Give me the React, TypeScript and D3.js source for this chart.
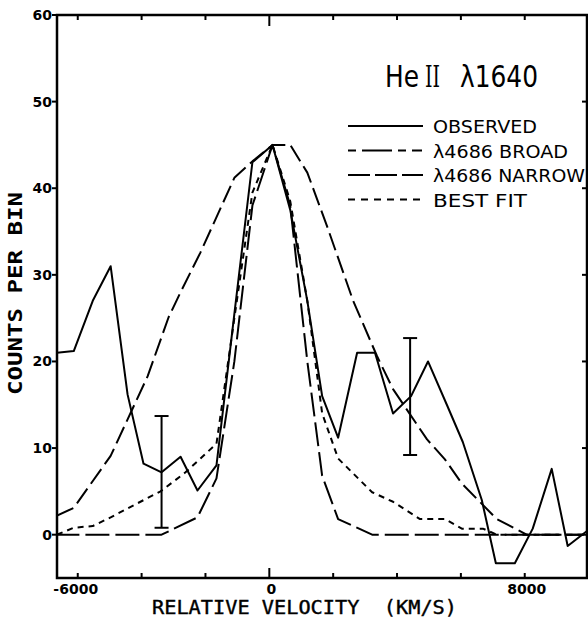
import { scaleLinear, line } from 'd3';

const WIDTH = 588;
const HEIGHT = 622;
const PLOT = { left: 57, right: 587, top: 15, bottom: 578 };

// observed spectrum (velocity km/s, counts per bin)
const obsVel = [-6700, -6125, -5530, -4970, -4440, -3940, -3375, -2780, -2250, -1655, -1095, -530, 100, 655, 1190, 1655, 2155, 2750, 3310, 3875, 4440, 4970, 5560, 6060, 6655, 7095, 7690, 8250, 8845, 9345, 9940];
const obsCounts = [21, 21.2, 27, 31, 16.2, 8.2, 7.2, 9, 5.1, 8, 25.5, 43, 45, 37.5, 27, 16, 11.2, 21, 21, 14, 16, 20, 15, 10.7, 4, -3.3, -3.3, 0.7, 7.6, -1.3, 0.4];

const broadVel = [-6650, -6125, -4970, -3810, -3155, -2780, -2155, -1095, -530, 100, 655, 1190, 1810, 2625, 3375, 3875, 4940, 5500, 6030, 7125, 8060, 9950];
const broadCounts = [2.2, 3.1, 9.1, 18.3, 25.1, 28, 32.6, 41.2, 43.1, 45, 45, 41.8, 35.6, 27, 20.6, 16.8, 11, 8.7, 5.9, 1.8, 0, 0];

const narrowVel = [-6700, -3375, -2250, -1655, -1095, -530, 100, 655, 1190, 1655, 2155, 3220, 9950];
const narrowCounts = [0, 0, 2, 6.5, 20, 38, 45, 38, 20, 6.8, 1.8, 0, 0];

const fitVel = [-6650, -6125, -5530, -4970, -4250, -3405, -2625, -2155, -1655, -1095, -530, 100, 655, 1190, 1655, 2155, 3220, 3875, 4720, 5500, 6030, 6690, 7125, 9950];
const fitCounts = [0, 0.8, 1, 2, 3.4, 5, 7.2, 8.8, 10.5, 25, 39.5, 45, 38.5, 27, 14, 8.8, 4.9, 3.8, 1.8, 1.8, 0.7, 0.7, 0, 0];

const errVel = [-3375, 4410];
const errLow = [0.8, 9.2];
const errHigh = [13.7, 22.7];

const yTicks = [0, 10, 20, 30, 40, 50, 60];
const xTicks = [-6000, -4000, -2000, 0, 2000, 4000, 6000, 8000];
const xLabels = [-6000, 0, 8000];

const legendNames = ['OBSERVED', 'λ4686 BROAD', 'λ4686 NARROW', 'BEST FIT'];
const legendDash = ['none', '8 6 30 6 8 6 10', '22 5', '7 6'];
const legendWidths = [104, 135, 152, 94];

const FONT = 'DejaVu Sans, sans-serif';
const MONO = 'DejaVu Sans Mono, monospace';

export default function App() {
  const x = scaleLinear().domain([-6650, 9950]).range([PLOT.left, PLOT.right]);
  const y = scaleLinear().domain([-5, 60]).range([PLOT.bottom, PLOT.top]);

  const path = (vs: number[], cs: number[]) =>
    line<number>()
      .x((_, i) => x(vs[i]))
      .y((c) => y(c))(cs) || '';

  const curves = [
    { d: path(obsVel, obsCounts), dash: 'none' },
    { d: path(broadVel, broadCounts), dash: '18 6' },
    { d: path(narrowVel, narrowCounts), dash: '24 6' },
    { d: path(fitVel, fitCounts), dash: '6 5' },
  ];

  return (
    <svg
      width={WIDTH}
      height={HEIGHT}
      viewBox={`0 0 ${WIDTH} ${HEIGHT}`}
      style={{ position: 'absolute', left: 0, top: 0, background: '#fff' }}
    >
      <defs>
        <clipPath id="plotClip">
          <rect x={PLOT.left} y={PLOT.top} width={PLOT.right - PLOT.left} height={PLOT.bottom - PLOT.top} />
        </clipPath>
      </defs>

      {/* curves */}
      <g clipPath="url(#plotClip)" fill="none" stroke="#000" strokeWidth={2} strokeLinejoin="round">
        {curves.map((c, i) => (
          <path key={i} d={c.d} strokeDasharray={c.dash} />
        ))}
      </g>

      {/* error bars */}
      <g stroke="#000" strokeWidth={2}>
        {errVel.map((v, i) => (
          <g key={i}>
            <line x1={x(v)} x2={x(v)} y1={y(errLow[i])} y2={y(errHigh[i])} />
            <line x1={x(v) - 7} x2={x(v) + 7} y1={y(errLow[i])} y2={y(errLow[i])} />
            <line x1={x(v) - 7} x2={x(v) + 7} y1={y(errHigh[i])} y2={y(errHigh[i])} />
          </g>
        ))}
      </g>

      {/* frame */}
      <rect
        x={PLOT.left}
        y={PLOT.top}
        width={PLOT.right - PLOT.left}
        height={PLOT.bottom - PLOT.top}
        fill="none"
        stroke="#000"
        strokeWidth={2.5}
      />

      {/* ticks */}
      <g stroke="#000" strokeWidth={2}>
        {yTicks.map((t) => (
          <line key={'l' + t} x1={PLOT.left - 5} x2={PLOT.left} y1={y(t)} y2={y(t)} />
        ))}
        {yTicks.filter((t) => t > 0 && t < 60).map((t) => (
          <line key={'r' + t} x1={PLOT.right - 5} x2={PLOT.right} y1={y(t)} y2={y(t)} />
        ))}
        {xTicks.map((t) => (
          <g key={'x' + t}>
            <line x1={x(t)} x2={x(t)} y1={PLOT.bottom} y2={PLOT.bottom - (t === 0 ? 10 : 5)} />
            <line x1={x(t)} x2={x(t)} y1={PLOT.top} y2={PLOT.top + (t === 0 ? 11 : 5)} />
          </g>
        ))}
      </g>

      {/* tick labels */}
      <g fontFamily={FONT} fontWeight="bold" fontSize={14} fill="#000">
        {yTicks.map((t) => (
          <text key={t} x={PLOT.left - 5} y={y(t) + 5} textAnchor="end">
            {t}
          </text>
        ))}
        {xLabels.map((t) => (
          <text key={t} x={x(t) + (t < 0 ? -2 : 2)} y={594} textAnchor="middle">
            {t}
          </text>
        ))}
      </g>

      {/* axis titles */}
      <text
        x={152}
        y={614}
        fontFamily={MONO}
        fontSize={19}
        textLength={305}
        lengthAdjust="spacingAndGlyphs"
        fill="#000"
        stroke="#000"
        strokeWidth={0.4}
      >
        {'RELATIVE VELOCITY\u00a0 (KM/S)'}
      </text>
      <text
        transform="translate(22,395) rotate(-90)"
        fontFamily={MONO}
        fontSize={19}
        fontWeight="bold"
        textLength={203}
        lengthAdjust="spacingAndGlyphs"
        fill="#000"
      >
        COUNTS PER BIN
      </text>

      {/* title */}
      <g fill="#000" fontSize={30}>
        <text x={385} y={87} fontFamily={FONT} textLength={34} lengthAdjust="spacingAndGlyphs">
          He
        </text>
        <text x={425} y={87} fontFamily="DejaVu Serif, serif" textLength={15} lengthAdjust="spacingAndGlyphs">
          II
        </text>
        <text x={460} y={87} fontFamily={FONT} textLength={78} lengthAdjust="spacingAndGlyphs">
          λ1640
        </text>
      </g>

      {/* legend */}
      <g fontFamily={FONT} fontSize={18} fill="#000">
        {legendNames.map((name, i) => {
          const ly = 126 + i * 24.5;
          return (
            <g key={name}>
              <line
                x1={348}
                x2={423}
                y1={ly}
                y2={ly}
                stroke="#000"
                strokeWidth={2}
                strokeDasharray={legendDash[i]}
              />
              <text x={433} y={ly + 7} textLength={legendWidths[i]} lengthAdjust="spacingAndGlyphs">
                {name}
              </text>
            </g>
          );
        })}
      </g>
    </svg>
  );
}
